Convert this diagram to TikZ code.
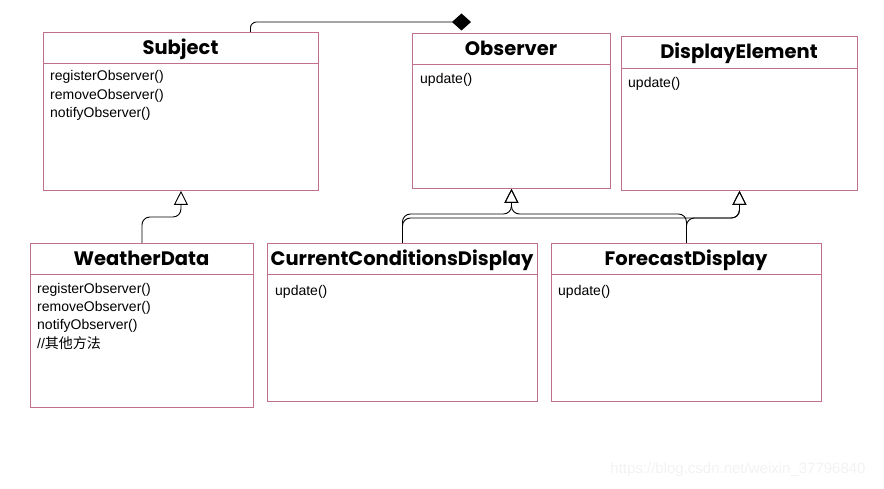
\documentclass[tikz,border=0pt]{standalone}
\usepackage{fontspec}
\setmainfont{Liberation Sans}
\newfontfamily\titlefont{Poppins}
\newfontfamily\cjk{Noto Sans CJK SC}
\usetikzlibrary{arrows.meta}
\definecolor{boxline}{RGB}{192,112,138}

\begin{document}
\begin{tikzpicture}[x=1pt,y=-1pt,
  box/.style={draw=boxline,line width=0.9pt,inner sep=0pt,anchor=north west},
  divider/.style={draw=boxline,line width=0.9pt},
  title/.style={font=\titlefont\bfseries\fontsize{19.5}{19.5}\selectfont,anchor=base},
  ops/.style={font=\fontsize{14}{18.3}\selectfont,align=left,anchor=north west,inner sep=0pt},
  gen/.style={-{Triangle[open,length=14pt,width=14pt]},rounded corners=8pt,line width=0.9pt},
  comp/.style={-{Diamond[fill=black,length=19pt,width=17pt]},rounded corners=6pt,line width=0.9pt}]

\useasboundingbox (0,0) rectangle (884,489);

% interfaces and abstract class
\node[box,minimum width=275pt,minimum height=158pt] (Subject) at (43,32) {};
\node[title] (SubjectT) at (180.5,55) {Subject};
\draw[divider] (43,63) -- (318,63);
\node[ops] (SubjectOps) at (50,70.5) {registerObserver()\\removeObserver()\\notifyObserver()};

\node[box,minimum width=198pt,minimum height=155pt] (Observer) at (412,33) {};
\node[title] (ObserverT) at (511,56) {Observer};
\draw[divider] (412,64) -- (610,64);
\node[ops] (ObserverOps) at (420,73) {update()};

\node[box,minimum width=236pt,minimum height=154pt] (DisplayElement) at (621,36) {};
\node[title] (DisplayElementT) at (739,59) {DisplayElement};
\draw[divider] (621,68) -- (857,68);
\node[ops] (DisplayElementOps) at (628,77) {update()};

% concrete classes
\node[box,minimum width=223pt,minimum height=164pt] (WeatherData) at (30,243) {};
\node[title] (WeatherDataT) at (141.5,266) {WeatherData};
\draw[divider] (30,274) -- (253,274);
\node[ops] (WeatherDataOps) at (37,283) {registerObserver()\\removeObserver()\\notifyObserver()\\//{\cjk 其他方法}};

\node[box,minimum width=270pt,minimum height=158pt] (CCD) at (267,243) {};
\node[title] (CCDT) at (402,266) {CurrentConditionsDisplay};
\draw[divider] (267,274) -- (537,274);
\node[ops] (CCDOps) at (275,285) {update()};

\node[box,minimum width=270pt,minimum height=158pt] (FD) at (551,243) {};
\node[title] (FDT) at (686,266) {ForecastDisplay};
\draw[divider] (551,274) -- (821,274);
\node[ops] (FDOps) at (558,285) {update()};

% relations
\coordinate (aggEnd) at (471,22);
\draw[comp] ([xshift=69.5pt]Subject.north) |- (aggEnd);
\draw[gen] (WeatherData.north) -- ++(0,-26) -| (Subject.south);
\draw[gen] (CCD.north) -- ++(0,-29) -| (Observer.south);
\draw[gen] (CCD.north) -- ++(0,-25) -| (DisplayElement.south);
\draw[gen] (FD.north) -- ++(0,-29) -| (Observer.south);
\draw[gen] (FD.north) -- ++(0,-25) -| (DisplayElement.south);

\node[text=black!5,font=\fontsize{15}{15}\selectfont] (mark) at (738,470) {https://blog.csdn.net/weixin\_37796840};

\end{tikzpicture}
\end{document}
